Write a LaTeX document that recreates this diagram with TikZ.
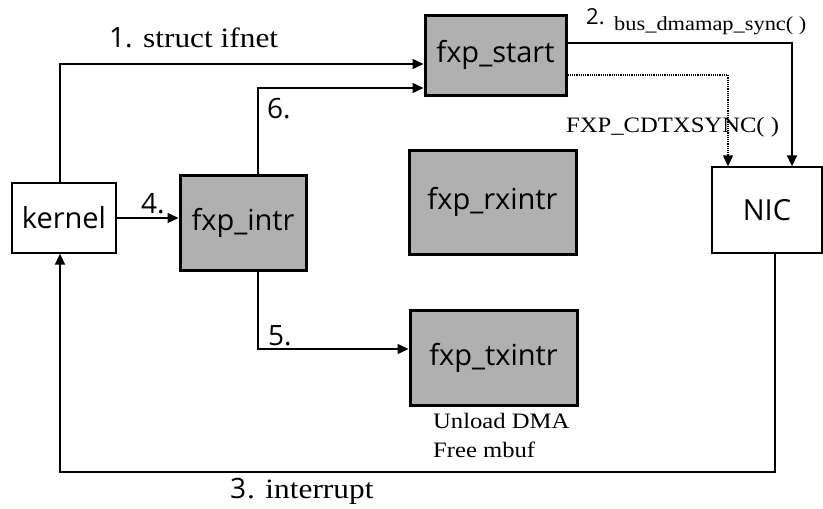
\documentclass[tikz,border=0pt]{standalone}
\usepackage{fontspec}
\setmainfont[FakeStretch=1.12]{Liberation Serif}
\newfontfamily\boxfont{Open Sans}
\usetikzlibrary{arrows.meta}
\definecolor{boxgrey}{HTML}{B0B0B0}
\begin{document}
\begin{tikzpicture}[x=1pt,y=-1pt,
  fn/.style={draw=black,line width=3pt,fill=boxgrey,inner sep=0pt,font=\boxfont\fontsize{29}{33}\selectfont},
  plain/.style={draw=black,line width=1.3pt,fill=white,inner sep=0pt,font=\boxfont\fontsize{29}{33}\selectfont},
  conn/.style={line width=1.5pt,-{Triangle[length=11pt,width=10pt]}},
  numlab/.style={font=\boxfont\fontsize{28}{32}\selectfont,anchor=base west,inner sep=0pt},
  serlab/.style={font=\fontsize{28}{32}\selectfont,anchor=base west,inner sep=0pt}]
\useasboundingbox (0,0) rectangle (823,509);
\node[plain,minimum width=104pt,minimum height=70pt] (kernel) at (64,218) {kernel};
\node[fn,minimum width=126pt,minimum height=95pt] (intr) at (243,222.5) {fxp\_intr};
\node[fn,minimum width=141pt,minimum height=80pt] (start) at (495.5,55) {fxp\_start};
\node[fn,minimum width=167pt,minimum height=104pt] (rx) at (492.5,202) {fxp\_rxintr};
\node[fn,minimum width=167pt,minimum height=95pt] (tx) at (493.5,357.5) {fxp\_txintr};
\node[plain,minimum width=110pt,minimum height=86pt] (nic) at (767,210) {NIC};
% 1
\coordinate (c1) at (60,64);
\draw[conn] (kernel.north -| c1) -- (c1) -- (c1 -| start.west);
\node[numlab] (n1) at (109,47) {1.};
\node[serlab] (l1) at (143,47) {struct ifnet};
% 6
\coordinate (c6) at (258,88);
\draw[conn] (intr.north -| c6) -- (c6) -- (c6 -| start.west);
\node[numlab] (l6) at (267,118) {6.};
% 2
\coordinate (c2) at (792,43);
\draw[conn] (c2 -| start.east) -- (c2) -- (c2 |- nic.north);
\node[numlab,font=\boxfont\fontsize{22}{26}\selectfont] (n2) at (586,24) {2.};
\node[serlab,font=\fontsize{20}{24}\selectfont] (l2) at (614,30) {bus\_dmamap\_sync( )};
% dotted
\coordinate (cd) at (728,75);
\draw[line width=1.2pt,densely dotted,-{Triangle[length=11pt,width=10pt]}] (cd -| start.east) -- (cd) -- (cd |- nic.north);
\node[serlab,font=\fontsize{22}{26}\selectfont] (lfx) at (566,132) {FXP\_CDTXSYNC( )};
% 4
\draw[conn] (kernel.east) -- (kernel.east -| intr.west);
\node[numlab] (l4) at (141,213) {4.};
% 5
\coordinate (c5) at (258,349);
\draw[conn] (intr.south -| c5) -- (c5) -- (c5 -| tx.west);
\node[numlab] (l5) at (268,345) {5.};
% 3
\coordinate (c3a) at (775,472);
\coordinate (c3b) at (60,472);
\draw[conn] (nic.south -| c3a) -- (c3a) -- (c3b) -- (c3b |- kernel.south);
\node[numlab] (n3) at (230,498) {3};
\node[serlab] (l3) at (247,498) {. interrupt};
% tx notes
\node[serlab,font=\fontsize{22}{29}\selectfont] (notes1) at (433,428) {Unload DMA};
\node[serlab,font=\fontsize{22}{29}\selectfont] (notes2) at (433,457) {Free mbuf};
\end{tikzpicture}
\end{document}
